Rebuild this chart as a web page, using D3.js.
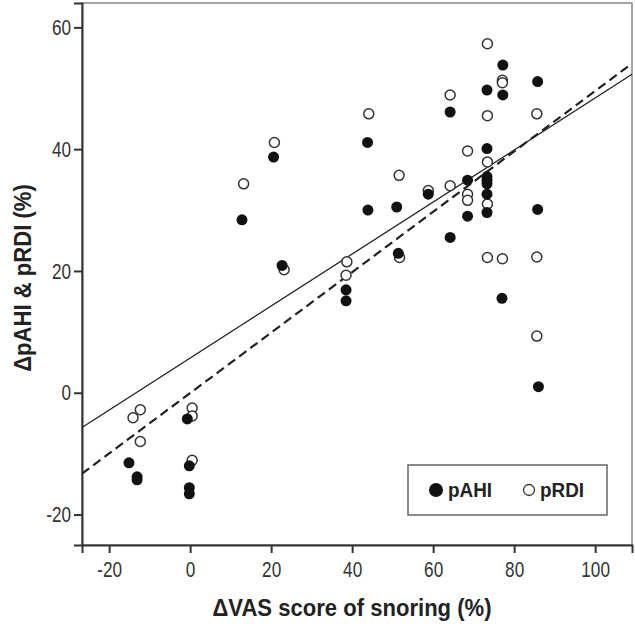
<!DOCTYPE html>
<html><head><meta charset="utf-8">
<script src="https://cdn.jsdelivr.net/npm/d3@7/dist/d3.min.js"></script>
<style>
html,body{margin:0;padding:0;background:#fff;}
svg{display:block;}
text{font-family:"Liberation Sans",Arial,sans-serif;}
</style></head>
<body><svg id="c" width="635" height="626"></svg>
<script>
// ---- data ----
const xTicks = [-20, 0, 20, 40, 60, 80, 100];
const yTicks = [-20, 0, 20, 40, 60];
const xDomain = [-26.7, 109.1];
const yDomain = [-25.0, 64.0];

const pAHI_x = [-15.1,-13.1,-13.1,-0.7,-0.2,-0.2,-0.2,12.8,20.6,22.7,38.5,38.5,43.8,43.9,51.0,51.4,58.8,64.2,64.2,68.5,68.5,73.3,73.3,73.3,73.3,73.3,73.3,73.3,77.2,77.2,77.0,85.8,85.8,86.0];
const pAHI_y = [-11.5,-13.8,-14.3,-4.3,-12.0,-15.6,-16.6,28.4,38.7,20.9,16.9,15.1,41.1,30.0,30.5,22.9,32.6,46.1,25.5,34.9,29.0,49.7,40.1,35.5,34.9,34.3,32.6,29.6,53.8,48.9,15.5,51.1,30.1,1.0];

const pRDI_x = [-14.1,-12.3,-12.3,0.5,0.5,0.5,13.2,20.8,23.2,38.7,38.5,44.1,51.6,51.7,58.8,64.2,64.2,68.5,68.5,68.5,73.4,73.4,73.4,73.4,73.4,77.1,77.1,77.1,85.6,85.6,85.6];
const pRDI_y = [-4.1,-2.8,-8.0,-2.5,-3.8,-11.1,34.3,41.1,20.2,21.5,19.3,45.8,35.7,22.2,33.2,34.0,48.9,39.7,32.6,31.6,57.3,45.5,37.9,31.0,22.2,22.0,51.3,50.9,45.8,22.3,9.3];

const fitNames = ["pRDI", "pAHI"];
const fitIntercept = [5.7, -0.05];
const fitSlope = [0.427, 0.496];
const fitDash = ["", "9,5"];

const legendLabels = ["pAHI", "pRDI"];
const xTitle = "\u0394VAS score of snoring (%)";
const yTitle = "\u0394pAHI & pRDI (%)";

// ---- layout ----
const L = 82, R = 632, T = 3, B = 545;
const svg = d3.select("#c");
const x = d3.scaleLinear().domain(xDomain).range([L, R]);
const y = d3.scaleLinear().domain(yDomain).range([B, T]);
const NARROW = 0.78;

// frame
svg.append("rect").attr("x", L).attr("y", T).attr("width", R - L).attr("height", B - T)
  .attr("fill", "none").attr("stroke", "#888").attr("stroke-width", 1.5);

// axes
const xAxis = svg.append("g").attr("transform", `translate(0,${B})`)
  .call(d3.axisBottom(x).tickValues(xTicks).tickSize(8).tickPadding(8).tickFormat(d => String(d)));
const yAxis = svg.append("g").attr("transform", `translate(${L},0)`)
  .call(d3.axisLeft(y).tickValues(yTicks).tickSize(8).tickPadding(3).tickFormat(d => String(d)));
[xAxis, yAxis].forEach(g => {
  g.select(".domain").attr("stroke", "#333").attr("stroke-width", 2);
  g.selectAll(".tick line").attr("stroke", "#333").attr("stroke-width", 2);
  g.selectAll(".tick text").attr("fill", "#333").style("font-size", "22px")
    .style("font-family", '"Liberation Sans",Arial,sans-serif');
});
xAxis.selectAll(".tick text").attr("transform", `scale(${NARROW},1)`);
yAxis.selectAll(".tick text").each(function () {
  const t = d3.select(this);
  const xx = +t.attr("x");
  t.attr("x", xx / NARROW).attr("transform", `scale(${NARROW},1)`);
});

// clip
svg.append("clipPath").attr("id", "clip").append("rect")
  .attr("x", L).attr("y", T).attr("width", R - L).attr("height", B - T);

// fit lines
const fits = fitNames.map((n, i) => ({ n, a: fitIntercept[i], b: fitSlope[i], dash: fitDash[i] }));
svg.append("g").attr("clip-path", "url(#clip)").selectAll("line").data(fits).join("line")
  .attr("x1", x(xDomain[0])).attr("x2", x(xDomain[1]))
  .attr("y1", d => y(d.a + d.b * xDomain[0])).attr("y2", d => y(d.a + d.b * xDomain[1]))
  .attr("stroke", "#222").attr("stroke-width", d => d.dash ? 2.2 : 1.3)
  .attr("stroke-dasharray", d => d.dash || null);

// points
const rdi = pRDI_x.map((v, i) => [v, pRDI_y[i]]);
const ahi = pAHI_x.map((v, i) => [v, pAHI_y[i]]);
svg.append("g").selectAll("circle").data(rdi).join("circle")
  .attr("cx", d => x(d[0])).attr("cy", d => y(d[1])).attr("r", 5)
  .attr("fill", "#fff").attr("stroke", "#333").attr("stroke-width", 1.5);
svg.append("g").selectAll("circle").data(ahi).join("circle")
  .attr("cx", d => x(d[0])).attr("cy", d => y(d[1])).attr("r", 5.5)
  .attr("fill", "#111");

// legend
const lg = svg.append("g");
lg.append("rect").attr("x", 408).attr("y", 465).attr("width", 199).attr("height", 50)
  .attr("fill", "#fff").attr("stroke", "#666").attr("stroke-width", 1.5);
lg.append("circle").attr("cx", 436).attr("cy", 490).attr("r", 7).attr("fill", "#111");
lg.append("text").attr("transform", "translate(448,497) scale(0.9,1)").text(legendLabels[0])
  .style("font-size", "21px").style("font-weight", "bold").attr("fill", "#222");
lg.append("circle").attr("cx", 529).attr("cy", 490).attr("r", 5.5).attr("fill", "#fff")
  .attr("stroke", "#333").attr("stroke-width", 1.3);
lg.append("text").attr("transform", "translate(540,497) scale(0.9,1)").text(legendLabels[1])
  .style("font-size", "21px").style("font-weight", "bold").attr("fill", "#222");

// titles
svg.append("text").attr("transform", "translate(352,616) scale(0.92,1)").attr("text-anchor", "middle")
  .style("font-size", "24px").style("font-weight", "bold").attr("fill", "#222").text(xTitle);
svg.append("text").attr("transform", "translate(31,278) rotate(-90) scale(0.92,1)").attr("text-anchor", "middle")
  .style("font-size", "24px").style("font-weight", "bold").attr("fill", "#222").text(yTitle);
</script></body></html>
